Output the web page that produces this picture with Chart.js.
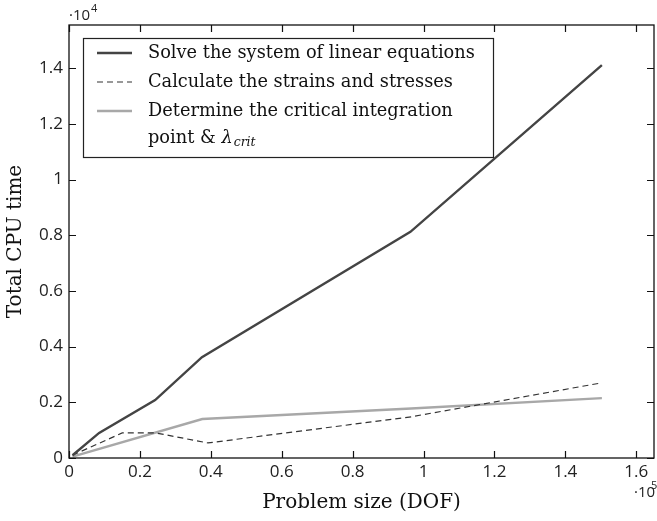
<!DOCTYPE html>
<html>
<head>
<meta charset="utf-8">
<script src="https://cdn.jsdelivr.net/npm/chart.js@4"></script>
<style>
  html, body { margin: 0; padding: 0; background: #fff; }
  #wrap { width: 657px; height: 521px; }
</style>
</head>
<body>
<div id="wrap"><canvas id="cpuChart" width="657" height="521"></canvas></div>
<script>
// problem size in units of 1e5 DOF, CPU time in units of 1e4
const solveX = [0.01, 0.085, 0.243, 0.375, 0.963, 1.503];
const solveY = [0.01, 0.09, 0.208, 0.362, 0.812, 1.411];
const strainX = [0.01, 0.15, 0.245, 0.392, 0.965, 1.503];
const strainY = [0.01, 0.09, 0.09, 0.054, 0.148, 0.27];
const critX = [0.01, 0.376, 0.965, 1.503];
const critY = [0.005, 0.14, 0.178, 0.215];

const xTicks = [0, 0.2, 0.4, 0.6, 0.8, 1, 1.2, 1.4, 1.6];
const yTicks = [0, 0.2, 0.4, 0.6, 0.8, 1, 1.2, 1.4];

const labels = [
  'Solve the system of linear equations',
  'Calculate the strains and stresses',
  'Determine the critical integration'
];

const serif = '"DejaVu Serif", "Liberation Serif", serif';
const sans = '"Open Sans", "DejaVu Sans", sans-serif';

function toPoints(xs, ys) {
  return xs.map((x, i) => ({ x: x, y: ys[i] }));
}

// frame, inward ticks on all four sides, exponent labels and the legend box
const framePlugin = {
  id: 'frame',
  afterDraw(chart) {
    const ctx = chart.ctx;
    const a = chart.chartArea;
    const xs = chart.scales.x;
    const ys = chart.scales.y;
    ctx.save();
    ctx.strokeStyle = '#111';
    ctx.lineWidth = 1.3;
    ctx.strokeRect(a.left, a.top, a.right - a.left, a.bottom - a.top);

    ctx.lineWidth = 1.2;
    ctx.beginPath();
    xTicks.forEach(t => {
      const px = Math.round(xs.getPixelForValue(t)) + 0.5;
      ctx.moveTo(px, a.bottom); ctx.lineTo(px, a.bottom - 7);
      ctx.moveTo(px, a.top); ctx.lineTo(px, a.top + 7);
    });
    yTicks.forEach(t => {
      const py = Math.round(ys.getPixelForValue(t)) + 0.5;
      ctx.moveTo(a.left, py); ctx.lineTo(a.left + 7, py);
      ctx.moveTo(a.right, py); ctx.lineTo(a.right - 7, py);
    });
    ctx.stroke();

    // exponent labels
    ctx.fillStyle = '#222';
    ctx.textBaseline = 'alphabetic';
    ctx.textAlign = 'left';
    ctx.font = '15px ' + sans;
    ctx.fillText('\u00b710', 69, 20);
    ctx.fillText('\u00b710', 634, 497);
    ctx.font = '11px ' + sans;
    ctx.fillText('4', 91, 12);
    ctx.fillText('5', 651, 489);

    // legend
    const box = { left: 83.5, top: 38.5, right: 493.5, bottom: 157.5 };
    ctx.fillStyle = '#fff';
    ctx.fillRect(box.left, box.top, box.right - box.left, box.bottom - box.top);
    ctx.strokeStyle = '#222';
    ctx.lineWidth = 1.2;
    ctx.strokeRect(box.left, box.top, box.right - box.left, box.bottom - box.top);

    const rows = [53, 82, 111];
    chart.data.datasets.forEach((ds, i) => {
      ctx.strokeStyle = ds.borderColor;
      ctx.lineWidth = ds.borderWidth;
      ctx.setLineDash(ds.borderDash || []);
      ctx.beginPath();
      ctx.moveTo(97, rows[i]);
      ctx.lineTo(132, rows[i]);
      ctx.stroke();
    });
    ctx.setLineDash([]);
    ctx.fillStyle = '#111';
    ctx.textBaseline = 'middle';
    // size the legend font so the first line spans what it does in the figure
    ctx.font = '18px ' + serif;
    const size = 18 * 327 / ctx.measureText(labels[0]).width;
    ctx.font = size + 'px ' + serif;
    labels.forEach((t, i) => ctx.fillText(t, 148, rows[i]));
    const rowLast = 138;
    const start = 'point & ';
    ctx.fillText(start, 148, rowLast);
    let px = 148 + ctx.measureText(start).width;
    ctx.font = 'italic ' + size + 'px ' + serif;
    ctx.fillText('\u03bb', px, rowLast);
    px += ctx.measureText('\u03bb').width + 1;
    ctx.font = 'italic ' + (size * 0.7) + 'px ' + serif;
    ctx.fillText('crit', px, rowLast + 5);
    ctx.restore();
  }
};

new Chart(document.getElementById('cpuChart'), {
  type: 'line',
  data: {
    datasets: [
      {
        label: labels[0],
        data: toPoints(solveX, solveY),
        borderColor: '#444444',
        borderWidth: 2.4,
        pointRadius: 0,
        tension: 0
      },
      {
        label: labels[1],
        data: toPoints(strainX, strainY),
        borderColor: '#333333',
        borderWidth: 1.2,
        borderDash: [6, 4],
        pointRadius: 0,
        tension: 0
      },
      {
        label: labels[2],
        data: toPoints(critX, critY),
        borderColor: '#a8a8a8',
        borderWidth: 2.4,
        pointRadius: 0,
        tension: 0
      }
    ]
  },
  options: {
    responsive: false,
    animation: false,
    layout: { padding: { top: 25, right: 3, left: 0, bottom: 0 } },
    plugins: {
      legend: { display: false },
      tooltip: { enabled: false }
    },
    scales: {
      x: {
        type: 'linear',
        min: 0,
        max: 1.65,
        afterFit(s) { s.height = 63; },
        afterBuildTicks(s) { s.ticks = xTicks.map(v => ({ value: v })); },
        grid: { display: false, drawTicks: false },
        border: { display: false },
        ticks: {
          padding: 4,
          color: '#222',
          font: { family: sans, size: 17 },
          callback: v => String(Number(v.toFixed(1)))
        },
        title: {
          display: true,
          text: 'Problem size (DOF)',
          color: '#111',
          font: { family: serif, size: 20 },
          padding: { top: 0, bottom: 6 }
        }
      },
      y: {
        type: 'linear',
        min: 0,
        max: 1.555,
        afterFit(s) { s.width = 69; },
        afterBuildTicks(s) { s.ticks = yTicks.map(v => ({ value: v })); },
        grid: { display: false, drawTicks: false },
        border: { display: false },
        ticks: {
          padding: 6,
          color: '#222',
          font: { family: sans, size: 17 },
          callback: v => String(Number(v.toFixed(1)))
        },
        title: {
          display: true,
          text: 'Total CPU time',
          color: '#111',
          font: { family: serif, size: 20 },
          padding: { top: 4, bottom: 0 }
        }
      }
    }
  },
  plugins: [framePlugin]
});
</script>
</body>
</html>
